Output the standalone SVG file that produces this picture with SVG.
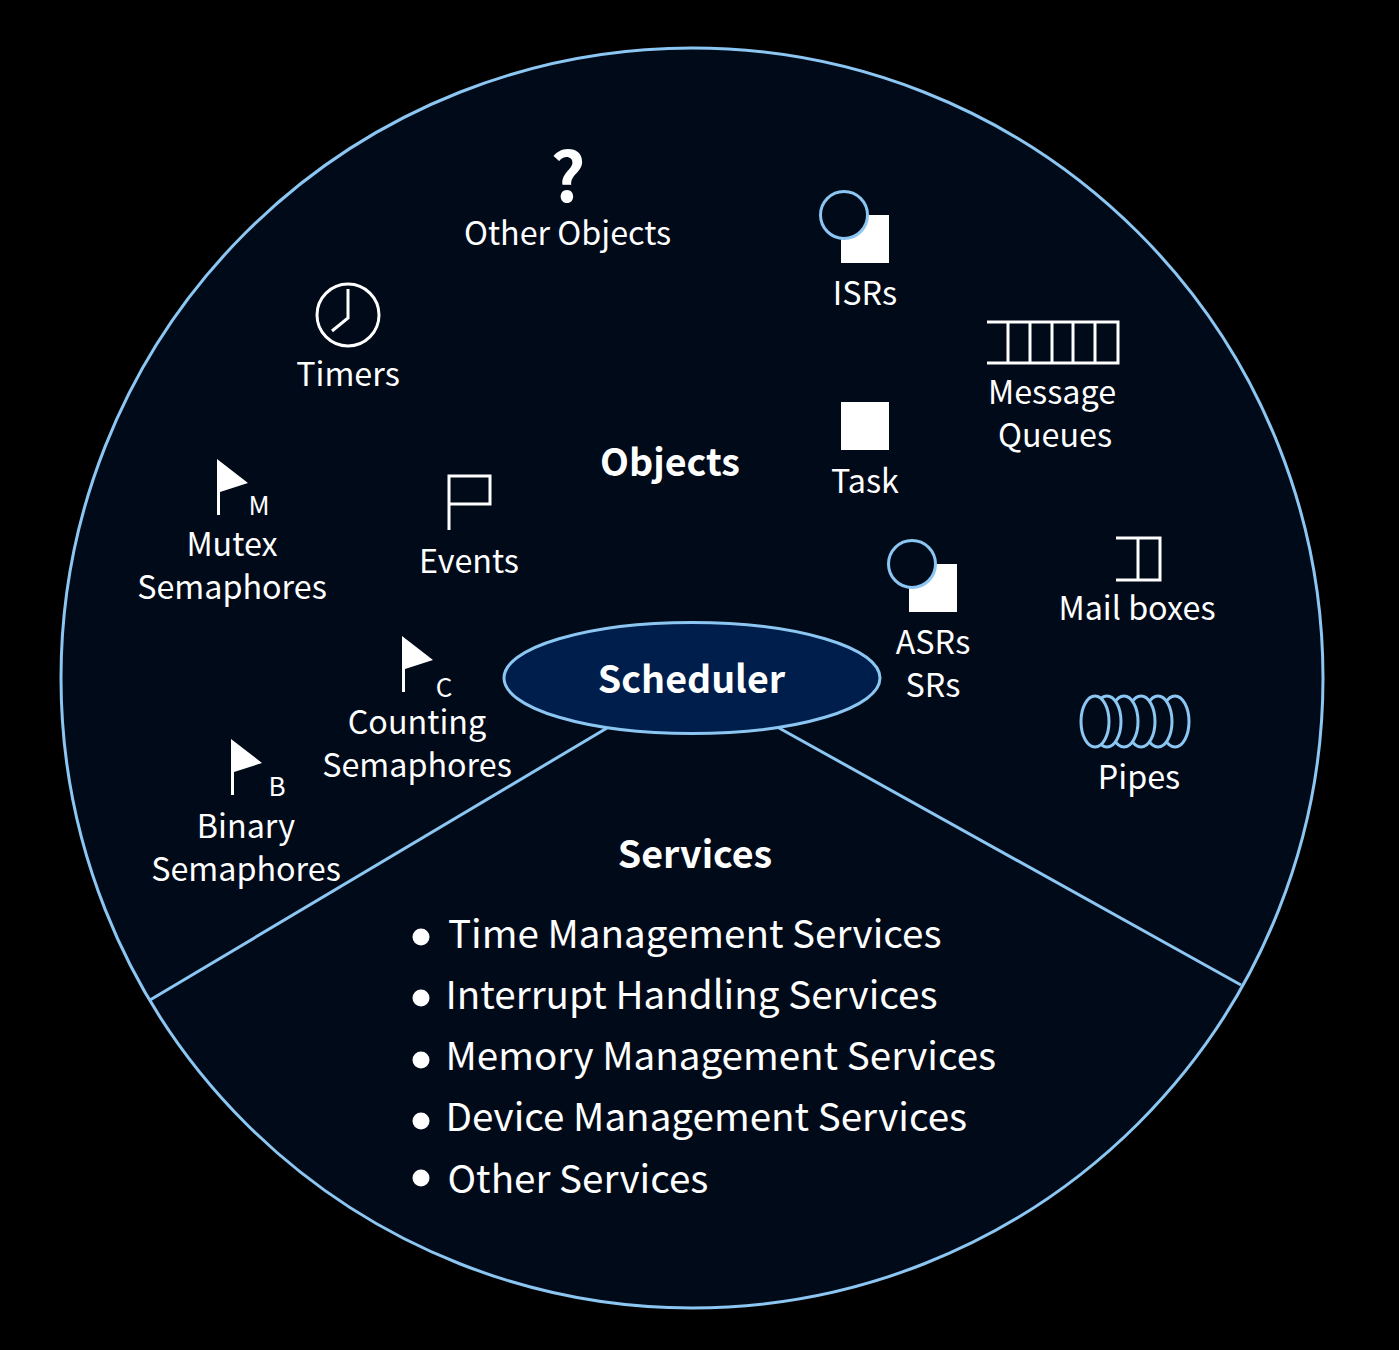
<svg xmlns="http://www.w3.org/2000/svg" width="1399" height="1350" viewBox="0 0 1399 1350">
<style>
text{font-family:"Noto Sans CJK SC","Noto Sans",sans-serif;fill:#fff;text-anchor:middle}
.l{font-size:32.300px}
.s{font-size:26px}
.h{font-size:37.600px;font-weight:700}
.i{font-size:38.600px;text-anchor:start}
.b{fill:none;stroke:#8cc6f2;stroke-width:3}
.p{fill:#000a19;stroke:#8cc6f2;stroke-width:3}
.w{fill:none;stroke:#fff;stroke-width:3}
.f{fill:#fff}
</style>
<defs>
<g id="flag"><path class="f" d="M0 0L31 24L3 33V56H0Z"/></g>
<g id="sq"><rect class="f" x="21" y="24" width="48" height="48"/><circle class="p" cx="24" cy="24" r="23.500"/></g>
</defs>
<rect width="1399" height="1350" fill="#000"/>
<g id="connectors">
<ellipse class="p" cx="692" cy="678" rx="631" ry="630"/>
<path class="b" d="M607 728L150 1000M779 728L1241 985"/>
</g>
<g id="scheduler"><ellipse cx="692" cy="678" rx="188" ry="55.500" fill="#001e4b" stroke="#8cc6f2" stroke-width="3"/><text class="h" x="691.500" y="693">Scheduler</text></g>
<g id="objects"><text class="h" x="670" y="476">Objects</text></g>
<g id="other-objects"><text x="568" y="202" font-size="68" font-weight="700">?</text><text class="l" x="567.500" y="245">Other Objects</text></g>
<g id="isrs"><use href="#sq" x="820" y="191"/><text class="l" x="865" y="305">ISRs</text></g>
<g id="timers"><circle class="w" cx="348" cy="315" r="31"/><path class="w" d="M348 289V318L332 331"/><text class="l" x="348" y="386">Timers</text></g>
<g id="message-queues"><path class="w" d="M987 322H1118V363H987M1008 322V363M1030 322V363M1052 322V363M1073 322V363M1095 322V363"/><text class="l" x="1052" y="404">Message</text><text class="l" x="1055" y="447">Queues</text></g>
<g id="task"><rect class="f" x="841" y="402" width="48" height="48"/><text class="l" x="865" y="493">Task</text></g>
<g id="mutex"><use href="#flag" x="217" y="459"/><text class="s" x="259" y="515">M</text><text class="l" x="232" y="556">Mutex</text><text class="l" x="232" y="599">Semaphores</text></g>
<g id="events"><path class="w" d="M449 530V476H490V504H449"/><text class="l" x="469" y="573">Events</text></g>
<g id="asrs"><use href="#sq" x="888" y="540"/><text class="l" x="933" y="654">ASRs</text><text class="l" x="933" y="697">SRs</text></g>
<g id="mailboxes"><path class="w" d="M1116 538H1160V580H1116M1138 538V580"/><text class="l" x="1137" y="620">Mail boxes</text></g>
<g id="pipes"><ellipse class="p" cx="1175" cy="721.500" rx="14" ry="25.500"/><ellipse class="p" cx="1158" cy="721.500" rx="14" ry="25.500"/><ellipse class="p" cx="1141" cy="721.500" rx="14" ry="25.500"/><ellipse class="p" cx="1124" cy="721.500" rx="14" ry="25.500"/><ellipse class="p" cx="1107" cy="721.500" rx="14" ry="25.500"/><ellipse class="p" cx="1095" cy="721.500" rx="14" ry="25.500"/><text class="l" x="1139" y="789">Pipes</text></g>
<g id="counting"><use href="#flag" x="402" y="636"/><text class="s" x="444" y="697">C</text><text class="l" x="417" y="734">Counting</text><text class="l" x="417" y="777">Semaphores</text></g>
<g id="binary"><use href="#flag" x="231" y="739"/><text class="s" x="277" y="796">B</text><text class="l" x="246" y="838">Binary</text><text class="l" x="246" y="881">Semaphores</text></g>
<g id="services"><text class="h" x="695" y="868">Services</text>
<circle class="f" cx="421" cy="937" r="8.500"/><circle class="f" cx="421" cy="998" r="8.500"/><circle class="f" cx="421" cy="1060" r="8.500"/><circle class="f" cx="421" cy="1121" r="8.500"/><circle class="f" cx="421" cy="1178" r="8.500"/>
<text class="i" x="448" y="948">Time Management Services</text>
<text class="i" x="445.500" y="1009">Interrupt Handling Services</text>
<text class="i" x="445.500" y="1070">Memory Management Services</text>
<text class="i" x="445.500" y="1131">Device Management Services</text>
<text class="i" x="447.500" y="1193">Other Services</text></g>
</svg>
